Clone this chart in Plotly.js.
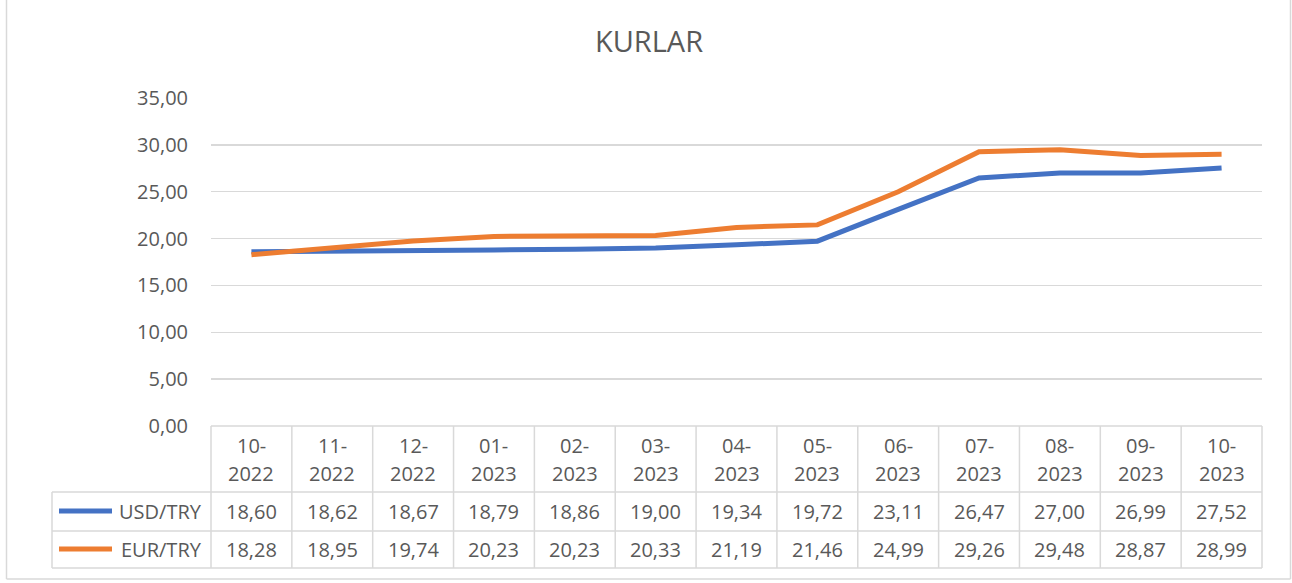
<!DOCTYPE html>
<html>
<head>
<meta charset="utf-8">
<script src="https://cdn.plot.ly/plotly-3.0.1.min.js"></script>
<style>html,body{margin:0;padding:0;background:#fff;}#chart{width:1292px;height:583px;}</style>
</head>
<body>
<div id="chart"></div>
<script>
const months = ["10-2022","11-2022","12-2022","01-2023","02-2023","03-2023","04-2023","05-2023","06-2023","07-2023","08-2023","09-2023","10-2023"];
const usdTry = [18.60,18.62,18.67,18.79,18.86,19.00,19.34,19.72,23.11,26.47,27.00,26.99,27.52];
const eurTry = [18.28,18.95,19.74,20.23,20.23,20.33,21.19,21.46,24.99,29.26,29.48,28.87,28.99];
const seriesNames = ["USD/TRY","EUR/TRY"];
const yTicks = [0,5,10,15,20,25,30,35];
const chartTitle = "KURLAR";

const W = 1292, H = 583;
const L = 211, R = 1262, T = 98, B = 426;
const pw = R - L, ph = B - T;
const px = p => (p - L) / pw;
const py = p => (B - p) / ph;

const fmt = v => v.toFixed(2).replace('.', ',');
const TXT = '#595959', GRID = '#D9D9D9';
const FONT = 'Open Sans, Noto Sans, sans-serif';
const colors = ['#4472C4', '#ED7D31'];
const seriesData = [usdTry, eurTry];

const traces = seriesData.map((d, i) => ({
  type: 'scatter', mode: 'lines', x: months, y: d, name: seriesNames[i],
  line: {color: colors[i], width: 5}, hoverinfo: 'skip'
}));

const shapes = [];
const annotations = [];
const lineShape = (x0, y0, x1, y1, color, width) => shapes.push({
  type: 'line', xref: 'paper', yref: 'paper',
  x0: px(x0), y0: py(y0), x1: px(x1), y1: py(y1),
  line: {color: color || GRID, width: width || 1.5}
});

// outer chart border
lineShape(6.5, -2, 6.5, 579);
lineShape(1290.5, -2, 1290.5, 579);
lineShape(6.5, 579, 1290.5, 579);

// data table grid
const rowHead = 492, rowUsd = 531, rowEnd = 568;
const colW = pw / months.length;
for (let i = 0; i <= months.length; i++) {
  const xx = L + i * colW;
  lineShape(xx, B, xx, rowEnd);
}
lineShape(L, B, R, B);
lineShape(52, rowHead, R, rowHead);
lineShape(52, rowUsd, R, rowUsd);
lineShape(52, rowEnd, R, rowEnd);
lineShape(52, rowHead, 52, rowEnd);

// legend keys in table
const rowCenters = [511, 549];
seriesNames.forEach((n, i) => {
  lineShape(59, rowCenters[i], 112, rowCenters[i], colors[i], 5);
  annotations.push({
    xref: 'paper', yref: 'paper', x: px(204), y: py(rowCenters[i]),
    xanchor: 'right', yanchor: 'middle', showarrow: false, text: n,
    font: {family: FONT, size: 20, color: TXT}
  });
});

// header and values
months.forEach((m, j) => {
  const parts = m.split('-');
  annotations.push({
    xref: 'x', yref: 'paper', x: m, y: py(445), xanchor: 'center', yanchor: 'middle',
    showarrow: false, text: parts[0] + '-', font: {family: FONT, size: 20, color: TXT}
  });
  annotations.push({
    xref: 'x', yref: 'paper', x: m, y: py(473), xanchor: 'center', yanchor: 'middle',
    showarrow: false, text: parts[1], font: {family: FONT, size: 20, color: TXT}
  });
  seriesData.forEach((d, i) => {
    annotations.push({
      xref: 'x', yref: 'paper', x: m, y: py(rowCenters[i]), xanchor: 'center', yanchor: 'middle',
      showarrow: false, text: fmt(d[j]), font: {family: FONT, size: 20, color: TXT}
    });
  });
});

const layout = {
  width: W, height: H,
  margin: {l: L, r: W - R, t: T, b: H - B, pad: 0},
  paper_bgcolor: '#fff', plot_bgcolor: '#fff',
  showlegend: false,
  title: {text: chartTitle, x: 649 / W, xref: 'container', xanchor: 'center', y: 1 - 42 / H, yref: 'container', yanchor: 'middle',
          font: {family: FONT, size: 29, color: TXT}},
  xaxis: {type: 'category', range: [-0.5, months.length - 0.5], showticklabels: false,
          showgrid: false, zeroline: false, showline: false, ticks: '', fixedrange: true},
  yaxis: {range: [0, 35], tickvals: yTicks, ticktext: yTicks.map(fmt), showgrid: true,
          gridcolor: GRID, gridwidth: 1.5, zeroline: false, showline: false, ticks: '',
          ticklabelstandoff: 22, tickfont: {family: FONT, size: 20, color: TXT}, fixedrange: true},
  shapes: shapes, annotations: annotations
};

Plotly.newPlot('chart', traces, layout, {displayModeBar: false, staticPlot: true});
</script>
</body>
</html>
